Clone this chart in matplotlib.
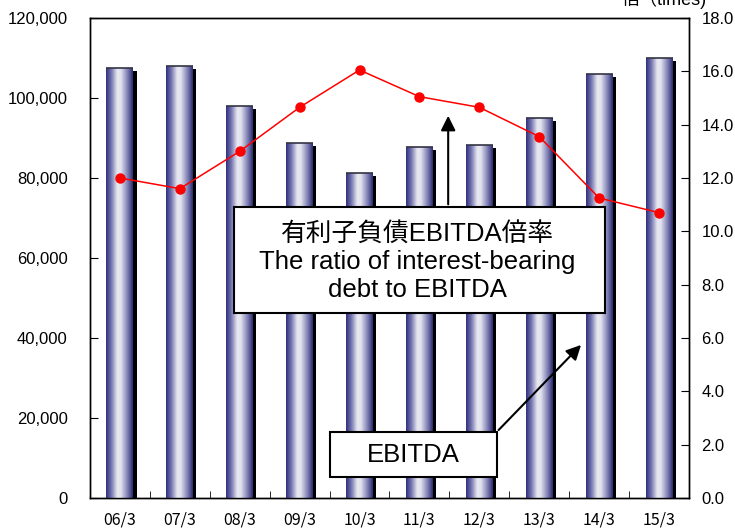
import numpy as np
import matplotlib
matplotlib.use('Agg')
import matplotlib.pyplot as plt
import matplotlib.patheffects as pe
from matplotlib.colors import LinearSegmentedColormap
from matplotlib.patches import Rectangle

# data
periods = ['06/3', '07/3', '08/3', '09/3', '10/3', '11/3', '12/3', '13/3', '14/3', '15/3']
ebitda = [107500, 108000, 98000, 88750, 81250, 87750, 88250, 95000, 106000, 110000]
ratio = [12.0, 11.6, 13.0, 14.65, 16.05, 15.05, 14.65, 13.55, 11.25, 10.7]
left_ticks = [0, 20000, 40000, 60000, 80000, 100000, 120000]
right_ticks = [0, 2, 4, 6, 8, 10, 12, 14, 16, 18]

narrow = ['Liberation Sans Narrow', 'Liberation Sans', 'DejaVu Sans']
jp = ['Liberation Sans', 'Noto Sans CJK JP', 'DejaVu Sans']

fig = plt.figure(figsize=(7.35, 5.32), dpi=100)
ax = fig.add_axes([0.1224, 0.0639, 0.815, 0.9023])
ax2 = ax.twinx()

x = np.arange(len(periods))
bars = ax.bar(x, ebitda, width=0.45, color='#5a5aa0', edgecolor='none', zorder=2,
              path_effects=[pe.SimplePatchShadow(offset=(2.3, -2.3), shadow_rgbFace='black', alpha=1.0),
                            pe.Normal()])

# cylinder-like shading inside each bar
cmap = LinearSegmentedColormap.from_list('cyl', [(0.0, '#2f2f7c'), (0.2, '#7676b0'), (0.42, '#e8e8f2'),
                                                 (0.55, '#e2e2ee'), (0.8, '#8080b6'), (1.0, '#2a2a70')])
grad = np.linspace(0, 1, 256).reshape(1, -1)
for b in bars:
    im = ax.imshow(grad, cmap=cmap, aspect='auto', zorder=3,
                   extent=[b.get_x(), b.get_x() + b.get_width(), 0, b.get_height()])
    im.set_clip_path(b)
    ax.plot([b.get_x(), b.get_x() + b.get_width()], [b.get_height(), b.get_height()],
            color='#333344', lw=1.2, zorder=4, solid_capstyle='butt')

ax.set_xlim(-0.5, len(periods) - 0.5)
ax.set_ylim(0, 120000)
ax.set_yticks(left_ticks)
ax.set_yticklabels([f'{v:,}' for v in left_ticks], family='Liberation Sans', fontsize=12)
ax.tick_params(axis='y', direction='in', length=6, pad=16)
ax.set_xticks(x)
ax.set_xticklabels(periods, family='Noto Sans CJK JP', fontsize=11.5)
ax.tick_params(axis='x', which='major', length=0, pad=10)
ax.set_xticks(np.arange(len(periods) + 1) - 0.5, minor=True)
ax.tick_params(axis='x', which='minor', direction='in', length=5)

ax2.plot(x, ratio, color='red', lw=1.1, marker='o', markersize=6.5, zorder=5)
ax2.set_ylim(0, 18)
ax2.set_yticks(right_ticks)
ax2.set_yticklabels([f'{v:.1f}' for v in right_ticks], family=narrow, fontsize=12)
ax2.tick_params(axis='y', direction='in', length=6, pad=9)

for a in (ax, ax2):
    for s in a.spines.values():
        s.set_linewidth(1.0)

# right-axis unit, partly above the top edge as in the original
fig.text(0.846, 1.0 + 1 / 532, '倍（times)', family=jp, fontsize=13, va='center', ha='left')

# annotation boxes
ax2.add_patch(Rectangle((0.2404, 0.3854), 0.6194, 0.2209, transform=ax2.transAxes,
                        facecolor='white', edgecolor='black', lw=1.5, zorder=10))
ax2.text(0.547, 0.4917, '有利子負債EBITDA倍率\nThe ratio of interest-bearing\ndebt to EBITDA',
         transform=ax2.transAxes, ha='center', va='center', family=jp, fontsize=18.5,
         linespacing=1.22, zorder=11)
ax2.annotate('', xy=(0.598, 0.802), xytext=(0.598, 0.606), xycoords='axes fraction',
             arrowprops=dict(arrowstyle='-|>', color='black', lw=1.5, mutation_scale=22), zorder=9)

ax2.add_patch(Rectangle((0.4007, 0.04375), 0.2788, 0.09375, transform=ax2.transAxes,
                        facecolor='white', edgecolor='black', lw=1.5, zorder=10))
ax2.text(0.540, 0.0906, 'EBITDA', transform=ax2.transAxes, ha='center', va='center',
         family='Liberation Sans', fontsize=18.5, zorder=11)
ax2.annotate('', xy=(0.823, 0.323), xytext=(0.679, 0.1375), xycoords='axes fraction',
             arrowprops=dict(arrowstyle='-|>', color='black', lw=1.5, mutation_scale=22), zorder=9)

fig.savefig('out.png', dpi=100)
